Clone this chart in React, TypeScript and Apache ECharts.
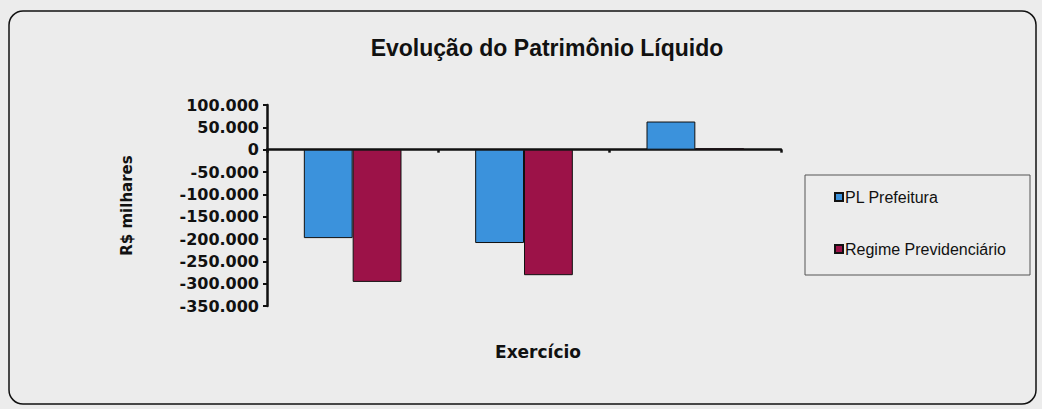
import React, { useEffect, useRef } from "react";
import * as echarts from "echarts";

const categories = ["1", "2", "3"];
const plPrefeitura = [-198000, -209000, 63000];
const regimePrevidenciario = [-296000, -281000, 3000];
const seriesNames = ["PL Prefeitura", "Regime Previdenciário"];
const titleText = "Evolução do Patrimônio Líquido";
const yAxisTitle = "R$ milhares";
const xAxisTitle = "Exercício";

const fmt = (v: number) => {
  if (v === 0) return "0";
  const s = Math.abs(v).toString().replace(/\B(?=(\d{3})+(?!\d))/g, ".");
  return (v < 0 ? "-" : "") + s;
};

export default function App() {
  const ref = useRef<HTMLDivElement>(null);
  useEffect(() => {
    if (!ref.current) return;
    const chart = echarts.init(ref.current, null, { renderer: "svg" });
    chart.setOption({
      animation: false,
      backgroundColor: "#ececec",
      title: {
        text: titleText,
        left: 542,
        top: 31,
        textAlign: "center",
        textStyle: { fontFamily: "Liberation Sans", fontWeight: "bold", fontSize: 23, color: "#111" },
      },
      grid: { left: 267, right: 261, top: 105, bottom: 103 },
      legend: {
        orient: "vertical",
        left: 829,
        top: 184,
        itemWidth: 8,
        itemHeight: 8,
        itemGap: 36,
        icon: "rect",
        textStyle: { fontFamily: "Liberation Sans", fontSize: 16, color: "#111", padding: [0, 0, 0, -3] },
        data: seriesNames,
      },
      xAxis: {
        type: "category",
        data: categories,
        axisLine: { onZero: true, lineStyle: { color: "#111", width: 2.5 } },
        axisTick: { show: true, length: 3, lineStyle: { color: "#111", width: 2.5 } },
        axisLabel: { show: false },
      },
      yAxis: {
        type: "value",
        min: -350000,
        max: 100000,
        interval: 50000,
        name: yAxisTitle,
        nameLocation: "middle",
        nameGap: 133,
        nameTextStyle: { fontFamily: "DejaVu Sans", fontWeight: "bold", fontSize: 15, color: "#111" },
        axisLine: { show: true, lineStyle: { color: "#111", width: 2.5 } },
        axisTick: { show: true, length: 4, lineStyle: { color: "#111", width: 2 } },
        splitLine: { show: false },
        axisLabel: {
          formatter: fmt,
          margin: 8,
          fontFamily: "DejaVu Sans",
          fontWeight: "bold",
          fontSize: 16,
          color: "#111",
        },
      },
      series: [
        {
          name: seriesNames[0],
          type: "bar",
          data: plPrefeitura,
          barGap: "0%",
          barCategoryGap: "43%",
          itemStyle: { color: "#3b92dc", borderColor: "#111", borderWidth: 1 },
        },
        {
          name: seriesNames[1],
          type: "bar",
          data: regimePrevidenciario,
          barGap: "0%",
          barCategoryGap: "43%",
          itemStyle: { color: "#9c1248", borderColor: "#111", borderWidth: 1 },
        },
      ],
      graphic: [
        {
          type: "rect",
          shape: { x: 9, y: 11, width: 1027, height: 393, r: 14 },
          style: { fill: "none", stroke: "#111", lineWidth: 1.5 },
          silent: true,
        },
        {
          type: "rect",
          shape: { x: 805, y: 175, width: 225, height: 100 },
          style: { fill: "none", stroke: "#555", lineWidth: 1 },
          silent: true,
        },
        {
          type: "text",
          x: 538,
          y: 352,
          style: {
            text: xAxisTitle,
            align: "center",
            verticalAlign: "middle",
            fontFamily: "DejaVu Sans",
            fontWeight: "bold",
            fontSize: 17,
            fill: "#111",
          },
        },
      ],
    });
    return () => chart.dispose();
  }, []);
  return (
    <div
      ref={ref}
      style={{ position: "fixed", left: 0, top: 0, width: 1042, height: 409 }}
    />
  );
}
